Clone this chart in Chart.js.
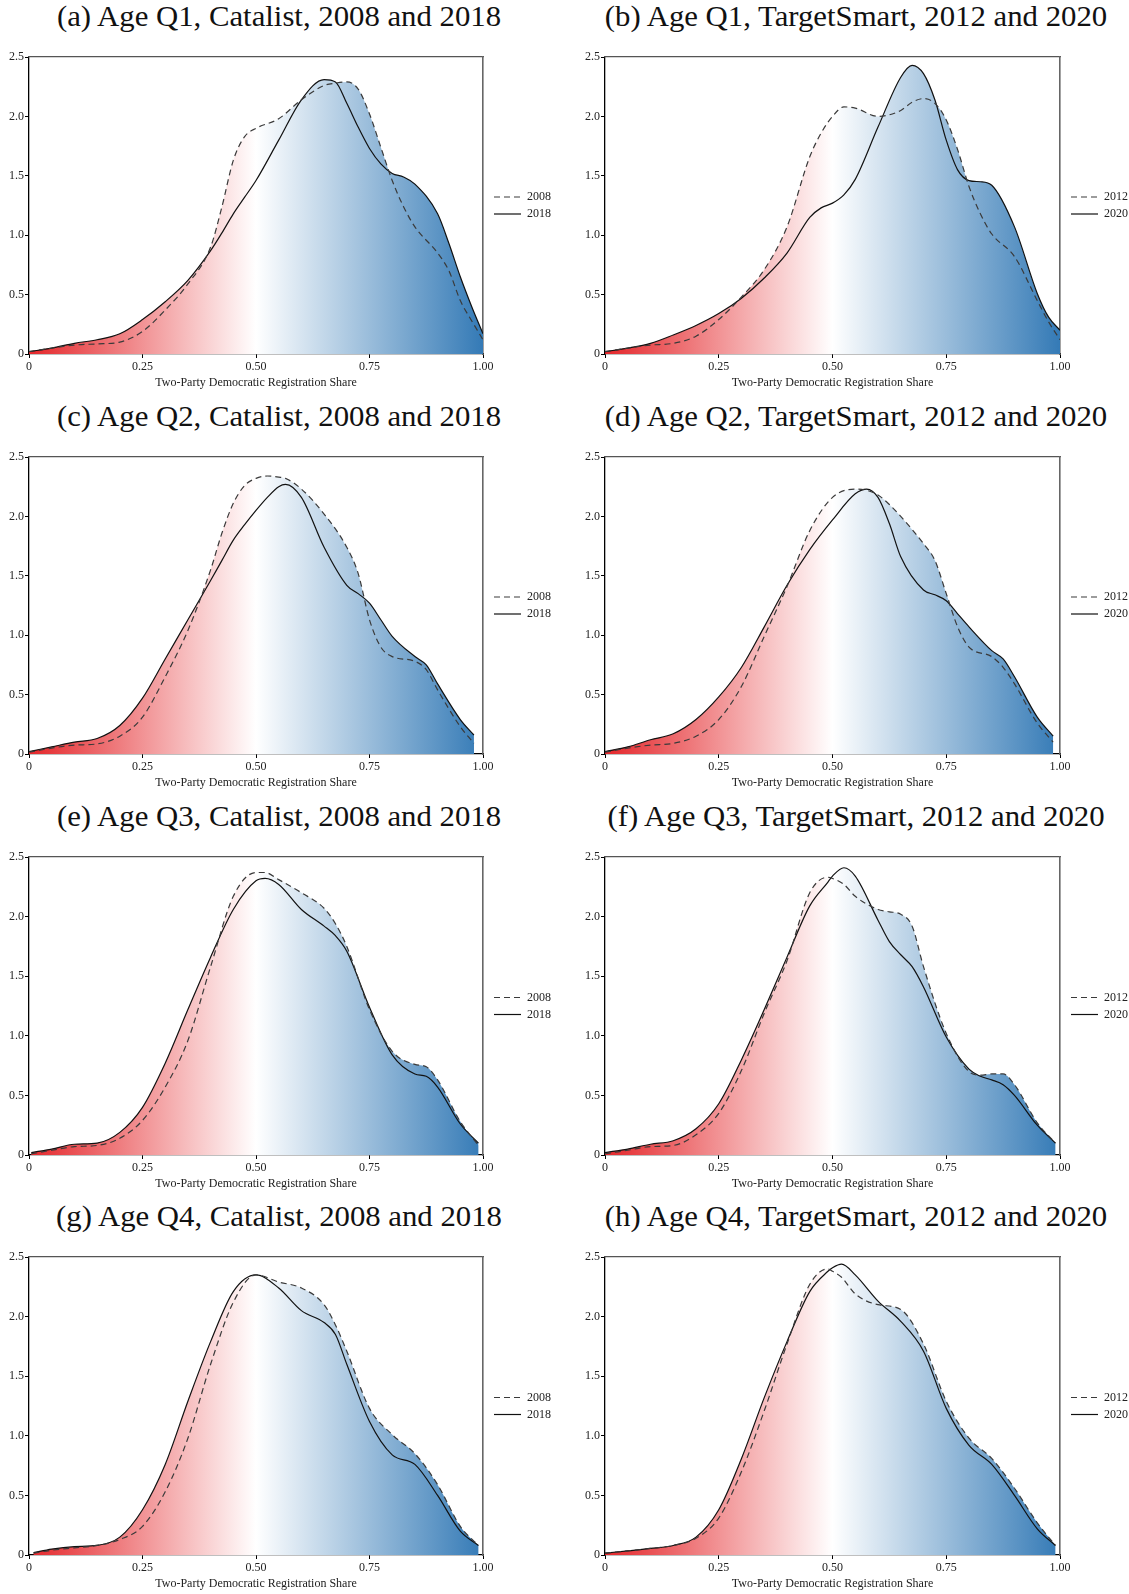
<!DOCTYPE html>
<html><head><meta charset="utf-8">
<script src="https://cdn.jsdelivr.net/npm/chart.js@4.4.1/dist/chart.umd.min.js"></script>
<style>
html,body{margin:0;padding:0;background:#fff;}
body{width:1129px;height:1594px;position:relative;overflow:hidden;font-family:'Liberation Serif','Times New Roman',serif;}
.t{position:absolute;font-size:30px;line-height:30px;white-space:nowrap;color:#111;transform:translateX(-50%) scaleX(1.025);}
canvas{position:absolute;}
</style></head><body>
<script>
// ---------- text ----------
const titles = [
  '(a) Age Q1, Catalist, 2008 and 2018',
  '(b) Age Q1, TargetSmart, 2012 and 2020',
  '(c) Age Q2, Catalist, 2008 and 2018',
  '(d) Age Q2, TargetSmart, 2012 and 2020',
  '(e) Age Q3, Catalist, 2008 and 2018',
  '(f) Age Q3, TargetSmart, 2012 and 2020',
  '(g) Age Q4, Catalist, 2008 and 2018',
  '(h) Age Q4, TargetSmart, 2012 and 2020'
];
const catalistYears = ['2008', '2018'];
const targetSmartYears = ['2012', '2020'];
const xTitle = 'Two-Party Democratic Registration Share';
const xTickLabels = ['0', '0.25', '0.50', '0.75', '1.00'];
const yTickLabels = ['0', '0.5', '1.0', '1.5', '2.0', '2.5'];

// ---------- data (density estimates) ----------
// (a) Age Q1, Catalist
const aX      = [0,0.05,0.1,0.15,0.2,0.25,0.3,0.35,0.4,0.425,0.45,0.475,0.5,0.55,0.6,0.65,0.675,0.7,0.725,0.75,0.775,0.8,0.825,0.85,0.9,0.925,0.95,0.975,1.0];
const a2008   = [0.02,0.05,0.075,0.085,0.10,0.19,0.37,0.59,0.90,1.24,1.63,1.83,1.90,1.98,2.14,2.26,2.28,2.29,2.23,2.02,1.74,1.46,1.24,1.07,0.85,0.70,0.45,0.28,0.12];
const a2018   = [0.02,0.05,0.09,0.12,0.17,0.29,0.44,0.62,0.87,1.02,1.18,1.32,1.46,1.80,2.14,2.31,2.29,2.11,1.91,1.73,1.60,1.52,1.49,1.43,1.18,0.93,0.65,0.40,0.17];
// (b) Age Q1, TargetSmart
const bX      = [0,0.05,0.1,0.15,0.2,0.25,0.3,0.35,0.4,0.45,0.475,0.5,0.525,0.55,0.6,0.65,0.675,0.7,0.725,0.75,0.775,0.8,0.825,0.85,0.9,0.95,0.975,1.0];
const b2012   = [0.02,0.05,0.075,0.09,0.15,0.29,0.48,0.71,1.07,1.66,1.86,2.00,2.08,2.07,2.00,2.05,2.12,2.15,2.11,1.97,1.72,1.41,1.18,1.01,0.82,0.45,0.27,0.12];
const b2020   = [0.02,0.05,0.09,0.16,0.24,0.34,0.47,0.64,0.85,1.15,1.23,1.27,1.34,1.47,1.91,2.33,2.43,2.36,2.14,1.80,1.55,1.46,1.45,1.42,1.07,0.51,0.31,0.20];
// (c) Age Q2, Catalist
const cX      = [0,0.05,0.1,0.15,0.2,0.25,0.3,0.35,0.4,0.425,0.45,0.475,0.5,0.525,0.55,0.565,0.6,0.65,0.7,0.725,0.75,0.775,0.8,0.85,0.875,0.9,0.95,0.98];
const c2008   = [0.015,0.05,0.075,0.085,0.15,0.31,0.65,1.04,1.55,1.86,2.11,2.26,2.32,2.34,2.33,2.32,2.23,2.02,1.74,1.52,1.13,0.90,0.82,0.78,0.71,0.54,0.23,0.09];
const c2018   = [0.02,0.06,0.10,0.13,0.24,0.47,0.80,1.13,1.46,1.63,1.80,1.93,2.05,2.16,2.25,2.27,2.16,1.74,1.42,1.35,1.27,1.13,0.99,0.82,0.75,0.59,0.29,0.16];
// (d) Age Q2, TargetSmart
const dX      = [0,0.05,0.1,0.15,0.2,0.25,0.3,0.35,0.4,0.45,0.5,0.55,0.575,0.6,0.625,0.65,0.7,0.725,0.75,0.775,0.8,0.85,0.875,0.9,0.95,0.985];
const d2012   = [0.015,0.05,0.075,0.09,0.15,0.29,0.57,0.99,1.41,1.88,2.16,2.23,2.22,2.18,2.10,2.00,1.77,1.63,1.35,1.07,0.90,0.82,0.73,0.59,0.26,0.10];
const d2020   = [0.02,0.06,0.12,0.17,0.29,0.48,0.73,1.07,1.42,1.72,1.97,2.19,2.23,2.16,1.94,1.66,1.38,1.34,1.29,1.18,1.07,0.87,0.80,0.65,0.31,0.15];
// (e) Age Q3, Catalist
const eX      = [0.005,0.05,0.1,0.15,0.2,0.25,0.3,0.35,0.4,0.45,0.5,0.52,0.55,0.6,0.65,0.675,0.7,0.75,0.8,0.85,0.875,0.9,0.95,0.99];
const e2008   = [0.01,0.04,0.07,0.08,0.14,0.29,0.57,0.96,1.58,2.17,2.37,2.37,2.31,2.20,2.07,1.94,1.75,1.22,0.87,0.76,0.74,0.63,0.28,0.08];
const e2018   = [0.02,0.05,0.09,0.10,0.19,0.40,0.77,1.22,1.66,2.06,2.30,2.32,2.27,2.06,1.92,1.84,1.71,1.24,0.84,0.68,0.66,0.57,0.26,0.10];
// (f) Age Q3, TargetSmart
const fX      = [0,0.05,0.1,0.15,0.2,0.25,0.3,0.35,0.4,0.45,0.49,0.5,0.525,0.55,0.6,0.625,0.65,0.675,0.7,0.75,0.8,0.825,0.85,0.875,0.9,0.95,0.99];
const f2012   = [0.01,0.04,0.07,0.08,0.17,0.35,0.71,1.19,1.63,2.20,2.33,2.32,2.27,2.17,2.06,2.04,2.02,1.92,1.58,1.02,0.70,0.67,0.68,0.68,0.59,0.27,0.10];
const f2020   = [0.02,0.05,0.09,0.12,0.22,0.43,0.80,1.22,1.66,2.09,2.29,2.34,2.41,2.34,1.97,1.79,1.68,1.58,1.41,0.99,0.72,0.66,0.63,0.59,0.50,0.25,0.10];
// (g) Age Q4, Catalist
const gX      = [0.01,0.05,0.1,0.15,0.2,0.25,0.3,0.35,0.4,0.45,0.5,0.55,0.6,0.65,0.675,0.7,0.75,0.8,0.85,0.9,0.95,0.99];
const g2008   = [0.015,0.04,0.06,0.08,0.13,0.24,0.53,0.98,1.60,2.12,2.35,2.29,2.24,2.10,1.93,1.71,1.23,1.01,0.85,0.59,0.24,0.08];
const g2018   = [0.02,0.05,0.07,0.08,0.15,0.38,0.76,1.29,1.79,2.21,2.35,2.24,2.05,1.95,1.85,1.60,1.12,0.84,0.76,0.50,0.20,0.08];
// (h) Age Q4, TargetSmart
const hX      = [0,0.05,0.1,0.15,0.2,0.25,0.3,0.35,0.4,0.45,0.49,0.5,0.52,0.55,0.6,0.65,0.7,0.75,0.8,0.85,0.9,0.95,0.99];
const h2012   = [0.015,0.035,0.055,0.08,0.14,0.31,0.70,1.21,1.77,2.27,2.40,2.38,2.33,2.19,2.10,2.06,1.77,1.29,0.98,0.81,0.56,0.27,0.08];
const h2020   = [0.015,0.035,0.055,0.08,0.15,0.38,0.81,1.32,1.79,2.21,2.38,2.41,2.44,2.35,2.13,1.96,1.71,1.23,0.92,0.76,0.50,0.22,0.08];

const panels = [
  {x: aX, dashed: a2008, solid: a2018, years: catalistYears},
  {x: bX, dashed: b2012, solid: b2020, years: targetSmartYears},
  {x: cX, dashed: c2008, solid: c2018, years: catalistYears},
  {x: dX, dashed: d2012, solid: d2020, years: targetSmartYears},
  {x: eX, dashed: e2008, solid: e2018, years: catalistYears},
  {x: fX, dashed: f2012, solid: f2020, years: targetSmartYears},
  {x: gX, dashed: g2008, solid: g2018, years: catalistYears},
  {x: hX, dashed: h2012, solid: h2020, years: targetSmartYears}
];

// ---------- layout ----------
const colLeft = [0, 565];
const colWidth = [565, 580];
const plotLeft = [29, 605];
const plotRight = [483, 1060];
const plotTop = [57, 457, 857, 1257];
const plotBottom = [354, 754, 1155, 1555];
const TOP_PAD = 17, XAXIS_H = 41;
const SMALL_FONT = {family: "'Liberation Serif','Times New Roman',serif", size: 12};

const RED = 'rgb(228,38,42)';
const BLUE = 'rgb(52,122,182)';

function gradientFill(ctx) {
  const chart = ctx.chart;
  const xs = chart.scales && chart.scales.x;
  if (!chart.chartArea || !xs) return 'rgba(0,0,0,0)';
  const x0 = xs.getPixelForValue(0), x1 = xs.getPixelForValue(1);
  const g = chart.ctx.createLinearGradient(x0, 0, x1, 0);
  g.addColorStop(0, RED);
  g.addColorStop(0.5, '#ffffff');
  g.addColorStop(1, BLUE);
  return g;
}

panels.forEach((p, i) => {
  const col = i % 2, row = Math.floor(i / 2);
  const cLeft = colLeft[col];
  const cTop = plotTop[row] - TOP_PAD;
  const cW = colWidth[col];
  const cH = plotBottom[row] - cTop + XAXIS_H;

  const title = document.createElement('div');
  title.className = 't';
  title.textContent = titles[i];
  title.style.left = ((plotLeft[col] + plotRight[col]) / 2 + 23) + 'px';
  title.style.top = (plotTop[row] - 56) + 'px';
  document.body.appendChild(title);

  const cv = document.createElement('canvas');
  cv.width = cW; cv.height = cH;
  cv.style.left = cLeft + 'px'; cv.style.top = cTop + 'px';
  cv.style.width = cW + 'px'; cv.style.height = cH + 'px';
  document.body.appendChild(cv);

  const yAxisW = plotLeft[col] - cLeft;
  const targetRight = plotRight[col] - cLeft;

  const chart = new Chart(cv.getContext('2d'), {
    type: 'line',
    data: {
      datasets: [
        {
          label: p.years[0],
          data: p.x.map((x, j) => ({x: x, y: p.dashed[j]})),
          borderColor: '#3a3a3a', borderWidth: 1.2, borderDash: [6, 4],
          pointRadius: 0, pointHoverRadius: 0,
          fill: 'origin', backgroundColor: gradientFill,
          cubicInterpolationMode: 'monotone'
        },
        {
          label: p.years[1],
          data: p.x.map((x, j) => ({x: x, y: p.solid[j]})),
          borderColor: '#111111', borderWidth: 1.2,
          pointRadius: 0, pointHoverRadius: 0,
          fill: 'origin', backgroundColor: gradientFill,
          cubicInterpolationMode: 'monotone'
        }
      ]
    },
    options: {
      responsive: false, animation: false, devicePixelRatio: 1,
      events: [],
      layout: {padding: {top: TOP_PAD, left: 0, right: 0, bottom: 0}},
      plugins: {
        filler: {drawTime: 'beforeDatasetsDraw'},
        tooltip: {enabled: false},
        legend: {
          position: 'right', fullSize: false, align: 'center',
          labels: {
            usePointStyle: true, pointStyle: 'line', pointStyleWidth: 27,
            padding: 5, color: '#222', font: SMALL_FONT,
            generateLabels: (ch) => {
              const items = Chart.defaults.plugins.legend.labels.generateLabels(ch);
              items.forEach(it => {
                const ds = ch.data.datasets[it.datasetIndex];
                it.lineDash = ds.borderDash || [];
                it.strokeStyle = ds.borderColor;
                it.lineWidth = ds.borderWidth;
                it.pointStyle = 'line';
              });
              return items;
            }
          }
        }
      },
      scales: {
        x: {
          type: 'linear', position: 'bottom', min: 0, max: 1,
          afterFit: (s) => { s.height = XAXIS_H; },
          ticks: {
            stepSize: 0.25, autoSkip: false, maxRotation: 0, padding: 2,
            color: '#222', font: SMALL_FONT,
            callback: (v, idx) => xTickLabels[idx]
          },
          grid: {display: true, drawOnChartArea: false, drawTicks: true, tickLength: 4, color: '#000', lineWidth: 1},
          border: {display: true, color: '#000', width: 1.3},
          title: {display: true, text: xTitle, color: '#222', font: SMALL_FONT, padding: {top: 0, bottom: 5}}
        },
        y: {
          type: 'linear', position: 'left', min: 0, max: 2.5,
          afterFit: (s) => { s.width = yAxisW; },
          ticks: {
            stepSize: 0.5, padding: 1, color: '#222', font: SMALL_FONT,
            callback: (v, idx) => yTickLabels[idx]
          },
          grid: {display: true, drawOnChartArea: false, drawTicks: true, tickLength: 4, color: '#000', lineWidth: 1},
          border: {display: true, color: '#000', width: 1.3}
        },
        x2: {
          type: 'linear', position: 'top', min: 0, max: 1,
          afterFit: (s) => { s.height = 0; },
          ticks: {display: false}, grid: {display: false},
          border: {display: true, color: '#555', width: 1.3}
        },
        y2: {
          type: 'linear', position: 'right', min: 0, max: 2.5,
          afterFit: (s) => { s.width = 6; },
          ticks: {display: false}, grid: {display: false},
          border: {display: true, color: '#666', width: 1.6}
        }
      }
    }
  });
  const diff = chart.chartArea.right - targetRight;
  if (Math.abs(diff) > 0.01) {
    chart.options.layout.padding.right = diff;
    chart.update('none');
  }
});
</script>
</body></html>
